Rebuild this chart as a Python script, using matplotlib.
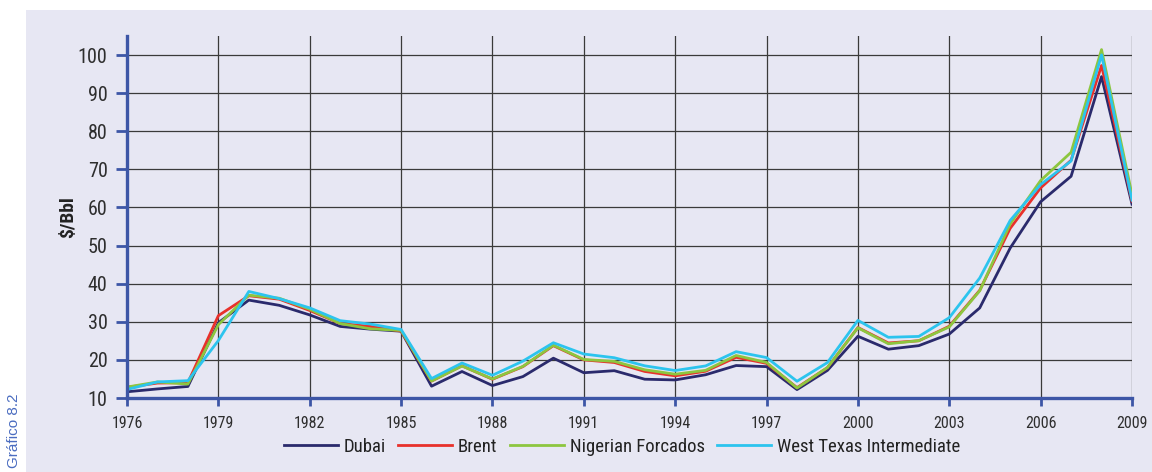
import matplotlib.pyplot as plt
from matplotlib.patches import Rectangle

# spot crude prices, $/bbl
years = list(range(1976, 2010))
dubai = [11.63, 12.38, 13.03, 29.75, 35.69, 34.32, 31.80, 28.78, 28.06, 27.53,
         13.10, 16.95, 13.27, 15.62, 20.45, 16.63, 17.17, 14.93, 14.74, 16.10,
         18.52, 18.23, 12.21, 17.25, 26.20, 22.81, 23.74, 26.78, 33.64, 49.35,
         61.50, 68.19, 94.34, 60.86]
brent = [12.80, 13.92, 14.02, 31.61, 36.83, 35.93, 32.97, 29.55, 28.78, 27.56,
         14.43, 18.44, 14.92, 18.23, 23.73, 20.00, 19.32, 16.97, 15.82, 17.02,
         20.67, 19.09, 12.72, 17.97, 28.50, 24.44, 25.02, 28.83, 38.27, 54.52,
         65.14, 72.39, 97.26, 61.67]
forcados = [12.87, 14.21, 13.65, 29.25, 36.98, 36.18, 33.29, 29.54, 28.14, 27.75,
            14.46, 18.39, 15.00, 18.30, 23.85, 20.11, 19.61, 17.41, 16.25, 17.26,
            21.16, 19.33, 12.62, 18.00, 28.42, 24.23, 25.04, 28.66, 38.13, 55.69,
            67.07, 74.48, 101.43, 63.35]
wti = [12.23, 14.22, 14.55, 25.08, 37.96, 36.08, 33.65, 30.30, 29.39, 27.98,
       15.10, 19.18, 15.97, 19.68, 24.50, 21.54, 20.57, 18.45, 17.21, 18.42,
       22.16, 20.61, 14.39, 19.31, 30.37, 25.93, 26.16, 31.07, 41.49, 56.59,
       66.02, 72.20, 100.06, 61.92]

series = [
    ("Dubai", dubai, "#2a2a6c"),
    ("Brent", brent, "#e8312b"),
    ("Nigerian Forcados", forcados, "#8dc63f"),
    ("West Texas Intermediate", wti, "#2cc4ee"),
]

bg = "#e7e7f3"
axis_blue = "#3d56a6"
font = ["Roboto Condensed", "Roboto", "DejaVu Sans"]

fig = plt.figure(figsize=(11.52, 4.72), dpi=100)
# lavender panel behind the chart, white strip on top and left
fig.patches.append(Rectangle((26 / 1152, 0), 1, 1 - 10 / 472,
                             transform=fig.transFigure, facecolor=bg,
                             edgecolor="none", zorder=-1))

ax = fig.add_axes([127 / 1152, 1 - 398 / 472, 1005 / 1152, 362 / 472])
ax.set_zorder(2)
ax.set_facecolor("none")

for name, vals, col in series:
    ax.plot(years, vals, color=col, lw=2.0, label=name, zorder=3)

ax.set_xlim(1976, 2009)
ax.set_ylim(10, 105)
ax.set_xticks(range(1976, 2010, 3))
ax.set_yticks(range(10, 101, 10))
ax.grid(True, color="#3a3a3a", lw=0.9, zorder=1)
ax.set_axisbelow(True)

for s in ["top", "right"]:
    ax.spines[s].set_visible(False)
for s in ["left", "bottom"]:
    ax.spines[s].set_color(axis_blue)
    ax.spines[s].set_linewidth(2.4)
    ax.spines[s].set_zorder(4)

ax.tick_params(axis="y", direction="out", length=8, width=2, color=axis_blue,
               pad=6, labelsize=14.5, labelcolor="#2e2e2e")
ax.tick_params(axis="x", direction="out", length=6, width=2, color=axis_blue,
               pad=7, labelsize=11.5, labelcolor="#2e2e2e")
for lab in ax.get_xticklabels() + ax.get_yticklabels():
    lab.set_family(font)

ax.set_ylabel("$/Bbl", fontsize=14, fontweight="bold", family=font, color="#222222")
ax.yaxis.set_label_coords(-0.050, 0.5)

leg = ax.legend(loc="center", bbox_to_anchor=(0.4925, -0.135), ncol=4, frameon=False,
                prop={"family": font, "size": 13.5}, handlelength=2.9,
                handletextpad=0.3, columnspacing=0.65)
for t in leg.get_texts():
    t.set_color("#222222")

fig.text(0.006, 1 - 393 / 472, "Gráfico 8.2", rotation=90, va="top", ha="left",
         fontsize=11, color="#4a6cc0", family="Liberation Sans")

fig.savefig("out.png", dpi=100)
